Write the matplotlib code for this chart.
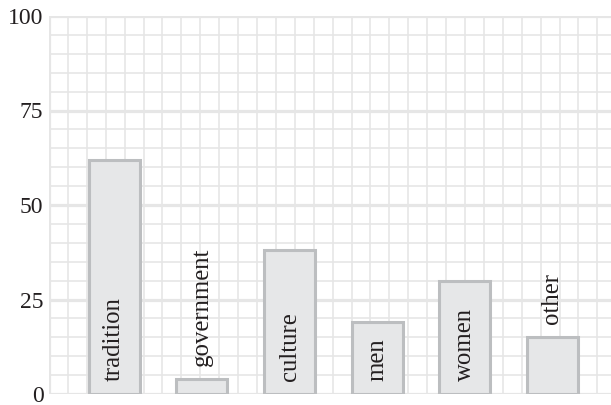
import matplotlib
matplotlib.use("Agg")
import matplotlib.pyplot as plt
import numpy as np

categories = ["tradition", "government", "culture", "men", "women", "other"]
values = [62, 4, 38, 19, 30, 15]
yticks = [0, 25, 50, 75, 100]

plt.rcParams['font.family'] = ['Liberation Serif', 'DejaVu Serif']

fig = plt.figure(figsize=(6.11, 4.05), dpi=100)
ax = fig.add_axes([49 / 611, 11 / 405, 1 - 49 / 611, (394 - 16) / 405])

x0, x1 = -0.744, 5.668
ax.set_xlim(x0, x1)
ax.set_ylim(0, 100)

grid_c = "#e6e6e6"
for y in np.arange(0, 101, 5):
    lw = 2.3 if y % 25 == 0 else 1.2
    ax.axhline(y, color=grid_c, lw=lw, zorder=0)
step = 18.9 / 87.6
for i, xv in enumerate(np.arange(x0, x1, step)):
    lw = 2.3 if i == 0 else 1.2
    ax.axvline(xv, color=grid_c, lw=lw, zorder=0)

xs = np.arange(len(categories))
ax.bar(xs, values, width=0.58, color="#e6e7e8", edgecolor="#bcbec0",
       linewidth=2.2, zorder=2)

for xi, v, lab in zip(xs, values, categories):
    base = 3.4
    length_units = len(lab) * 2.6
    start = base if v > length_units + 6 else v + base
    ax.text(xi, start, lab, rotation=90, ha="center", va="bottom",
            fontsize=17.8, color="#231f20", zorder=3)

for s in ax.spines.values():
    s.set_visible(False)
ax.set_xticks([])
ax.set_yticks(yticks)
ax.set_yticklabels([str(t) for t in yticks], fontsize=17, color="#231f20")
ax.tick_params(axis='y', length=0, pad=4)

fig.savefig("out.png", dpi=100)
